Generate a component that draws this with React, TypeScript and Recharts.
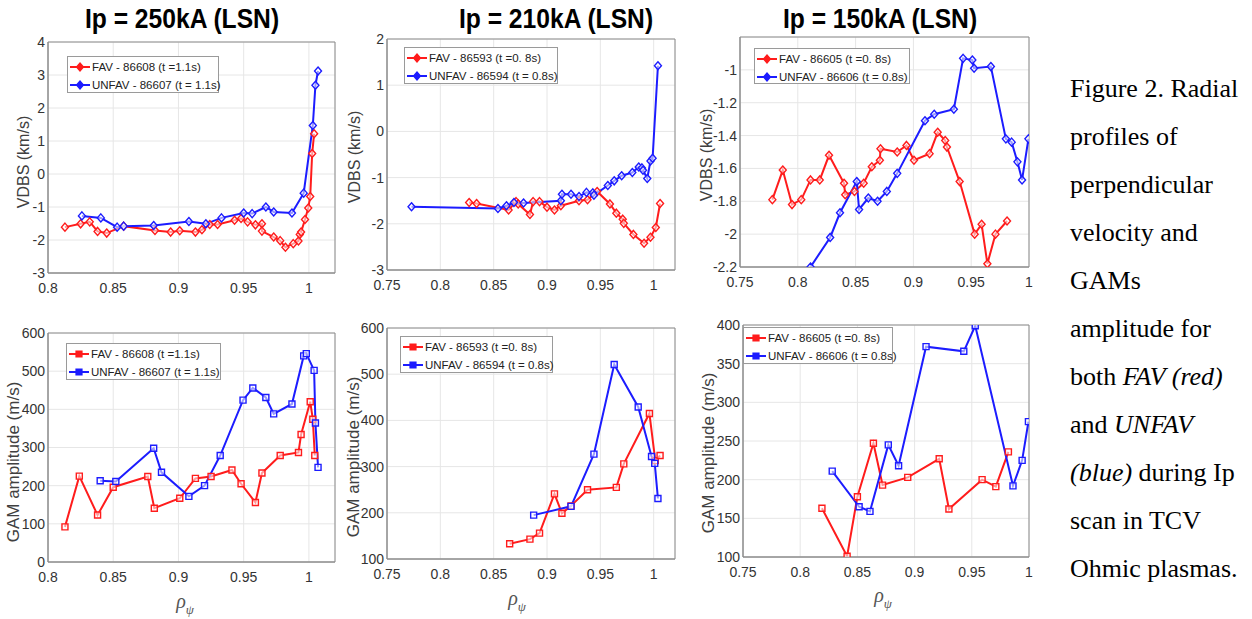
import React from "react";
import { LineChart, Line, XAxis, YAxis, CartesianGrid, ReferenceArea } from "recharts";

type Pt = [number, number];

const red = "#ff1c1c";
const blue = "#1c1cff";
const axisGray = "#8c8c8c";
const gridGray = "#e6e6e6";

// rho_psi vs value
const fav250Vdbs: Pt[] = [[0.813,-1.61],[0.825,-1.51],[0.832,-1.45],[0.838,-1.74],[0.845,-1.79],[0.858,-1.58],[0.882,-1.71],[0.894,-1.76],[0.901,-1.72],[0.913,-1.76],[0.918,-1.69],[0.924,-1.53],[0.93,-1.53],[0.943,-1.4],[0.948,-1.35],[0.953,-1.45],[0.959,-1.54],[0.964,-1.51],[0.964,-1.73],[0.973,-1.91],[0.978,-2.02],[0.982,-2.22],[0.988,-2.11],[0.992,-2.03],[0.993,-1.83],[0.994,-1.76],[0.997,-1.38],[0.9995,-1.03],[1.001,-0.68],[1.0025,0.62],[1.004,1.22]];
const unfav250Vdbs: Pt[] = [[0.826,-1.27],[0.8405,-1.33],[0.853,-1.61],[0.858,-1.58],[0.881,-1.56],[0.908,-1.44],[0.921,-1.51],[0.933,-1.33],[0.95,-1.18],[0.9565,-1.2],[0.967,-1.0],[0.973,-1.15],[0.987,-1.18],[0.996,-0.58],[1.003,1.47],[1.005,2.69],[1.007,3.12]];
const fav210Vdbs: Pt[] = [[0.827,-1.54],[0.834,-1.56],[0.864,-1.7],[0.871,-1.52],[0.873,-1.57],[0.884,-1.8],[0.887,-1.52],[0.893,-1.52],[0.9,-1.64],[0.907,-1.7],[0.913,-1.61],[0.93,-1.5],[0.938,-1.48],[0.947,-1.3],[0.959,-1.57],[0.965,-1.77],[0.971,-1.9],[0.972,-1.99],[0.981,-2.23],[0.991,-2.42],[0.997,-2.29],[1.002,-2.08],[1.006,-1.56]];
const unfav210Vdbs: Pt[] = [[0.773,-1.63],[0.854,-1.67],[0.862,-1.61],[0.869,-1.54],[0.878,-1.55],[0.913,-1.5],[0.914,-1.36],[0.9225,-1.36],[0.93,-1.41],[0.937,-1.32],[0.943,-1.33],[0.944,-1.38],[0.957,-1.17],[0.963,-1.07],[0.97,-0.96],[0.98,-0.89],[0.986,-0.77],[0.989,-0.79],[0.99,-0.84],[0.994,-1.02],[0.997,-0.64],[0.999,-0.58],[1.004,1.42]];
const fav150Vdbs: Pt[] = [[0.778,-1.79],[0.787,-1.61],[0.795,-1.82],[0.803,-1.79],[0.811,-1.67],[0.819,-1.67],[0.827,-1.52],[0.84,-1.69],[0.841,-1.76],[0.849,-1.74],[0.857,-1.69],[0.864,-1.59],[0.871,-1.55],[0.8715,-1.48],[0.886,-1.5],[0.894,-1.46],[0.9005,-1.55],[0.914,-1.51],[0.921,-1.38],[0.9275,-1.43],[0.929,-1.47],[0.94,-1.68],[0.953,-2.0],[0.959,-1.94],[0.964,-2.18],[0.971,-2.0],[0.981,-1.92]];
const unfav150Vdbs: Pt[] = [[0.811,-2.2],[0.828,-2.02],[0.8365,-1.87],[0.851,-1.68],[0.853,-1.85],[0.861,-1.78],[0.869,-1.8],[0.877,-1.74],[0.886,-1.63],[0.91,-1.31],[0.918,-1.27],[0.935,-1.24],[0.943,-0.93],[0.951,-0.94],[0.9525,-0.99],[0.967,-0.98],[0.98,-1.42],[0.985,-1.44],[0.99,-1.56],[0.994,-1.67],[0.9995,-1.42]];

const fav250Gam: Pt[] = [[0.813,92],[0.824,225],[0.838,123],[0.85,196],[0.8765,224],[0.8815,141],[0.901,167],[0.913,219],[0.925,224],[0.941,241],[0.948,205],[0.959,156],[0.964,233],[0.978,279],[0.992,287],[0.994,334],[1.001,420],[1.003,374],[1.0045,279]];
const unfav250Gam: Pt[] = [[0.84,213],[0.852,211],[0.881,298],[0.887,235],[0.908,172],[0.92,200],[0.932,279],[0.9495,424],[0.957,456],[0.967,431],[0.973,388],[0.987,414],[0.996,540],[0.998,546],[1.004,502],[1.005,364],[1.007,248]];
const fav210Gam: Pt[] = [[0.865,133],[0.884,143],[0.893,156],[0.907,241],[0.914,199],[0.9225,215],[0.938,250],[0.965,255],[0.972,306],[0.996,415],[1.0015,313],[1.006,324]];
const unfav210Gam: Pt[] = [[0.8875,195],[0.9225,214],[0.944,327],[0.963,521],[0.9855,429],[0.998,322],[1.001,307],[1.004,231]];
const fav150Gam: Pt[] = [[0.819,163],[0.841,101],[0.85,178],[0.864,247],[0.872,193],[0.894,203],[0.9215,227],[0.93,162],[0.959,200],[0.971,191],[0.982,236]];
const unfav150Gam: Pt[] = [[0.828,211],[0.8515,165],[0.861,159],[0.877,245],[0.886,218],[0.91,372],[0.943,366],[0.953,399],[0.986,192],[0.994,225],[0.9995,275]];

const rhoTicksA = [0.8, 0.85, 0.9, 0.95, 1];
const rhoTicksB = [0.75, 0.8, 0.85, 0.9, 0.95, 1];
const vTicks250 = [-3, -2, -1, 0, 1, 2, 3, 4];
const vTicks210 = [-3, -2, -1, 0, 1, 2];
const vTicks150 = [-2.2, -2, -1.8, -1.6, -1.4, -1.2, -1];
const gTicks250 = [0, 100, 200, 300, 400, 500, 600];
const gTicks210 = [100, 200, 300, 400, 500, 600];
const gTicks150 = [100, 150, 200, 250, 300, 350, 400];

const toRows = (pts: Pt[]) => pts.map(([x, y]) => ({ x, y }));

const markerPath = (shape: string, cx: number, cy: number) =>
  shape === "d"
    ? `M${cx},${cy - 4}L${cx + 3.5},${cy}L${cx},${cy + 4}L${cx - 3.5},${cy}Z`
    : `M${cx - 3},${cy - 3}h6v6h-6Z`;

const marker = (shape: string, color: string) => (p: any) => {
  const { cx, cy, index } = p;
  if (cx == null || cy == null) return <g key={index} />;
  return <path key={index} d={markerPath(shape, cx, cy)} fill="#fff" fillOpacity={0.55} stroke={color} strokeWidth={1.4} />;
};

const sans = "'Liberation Sans', Arial, sans-serif";

function Panel({ box, xDomain, xTicks, yDomain, yTicks, fav, unfav, shape }: any) {
  const [L, T, W, H] = box;
  const ML = 50, MT = 10, MR = 10, MB = 30;
  const tick = { fill: "#333", fontSize: 14, fontFamily: sans };
  return (
    <div style={{ position: "absolute", left: L - ML, top: T - MT }}>
      <LineChart width={W + ML + MR} height={H + MT + MB} margin={{ top: MT, right: MR, bottom: 0, left: 0 }}>
        <CartesianGrid stroke={gridGray} />
        <XAxis dataKey="x" type="number" domain={xDomain} ticks={xTicks} allowDataOverflow interval={0}
          height={MB} tickLine={false} stroke={axisGray} tick={tick} tickMargin={4} tickFormatter={(v: number) => String(v)} />
        <YAxis type="number" domain={yDomain} ticks={yTicks} allowDataOverflow interval={0}
          width={ML} tickLine={false} tickSize={1} stroke={axisGray} tick={tick} tickMargin={2} tickFormatter={(v: number) => String(v)} />
        <ReferenceArea x1={xDomain[0]} x2={xDomain[1]} y1={yDomain[0]} y2={yDomain[1]} fill="none" fillOpacity={0} stroke={axisGray} strokeOpacity={1} />
        <Line data={toRows(fav)} dataKey="y" type="linear" stroke={red} strokeWidth={2} dot={marker(shape, red)} activeDot={false} isAnimationActive={false} />
        <Line data={toRows(unfav)} dataKey="y" type="linear" stroke={blue} strokeWidth={2} dot={marker(shape, blue)} activeDot={false} isAnimationActive={false} />
      </LineChart>
    </div>
  );
}

function LegendBox({ x, y, w, h, labels, shape }: any) {
  const rows = [{ c: red, t: labels[0], cy: 10 }, { c: blue, t: labels[1], cy: 28 }];
  return (
    <div style={{ position: "absolute", left: x, top: y, width: w, height: h, border: "1px solid #9a9a9a", background: "#fff", boxSizing: "border-box" }}>
      {rows.map((r) => (
        <div key={r.t} style={{ position: "absolute", left: 1, top: r.cy - 8, height: 16, display: "flex", alignItems: "center", whiteSpace: "nowrap" }}>
          <svg width={22} height={16}>
            <line x1={1} y1={8} x2={21} y2={8} stroke={r.c} strokeWidth={2} />
            <path d={markerPath(shape, 11, 8)} fill={r.c} stroke={r.c} strokeWidth={1.2} />
          </svg>
          <span style={{ fontFamily: sans, fontSize: 11.5, color: "#222", marginLeft: 1 }}>{r.t}</span>
        </div>
      ))}
    </div>
  );
}

function Title({ cx, text }: any) {
  return (
    <div style={{ position: "absolute", left: cx - 150, top: 4, width: 300, textAlign: "center", fontFamily: sans, fontWeight: "bold", fontSize: 28, lineHeight: "30px", color: "#000", transform: "scaleX(0.88)" }}>{text}</div>
  );
}

function YLabel({ cx, cy, text, size }: any) {
  return (
    <div style={{ position: "absolute", left: cx - 120, top: cy - 11, width: 240, height: 22, lineHeight: "22px", textAlign: "center", fontFamily: sans, fontSize: size, color: "#404040", transform: "rotate(-90deg)", whiteSpace: "nowrap" }}>{text}</div>
  );
}

function RhoLabel({ cx, cy }: any) {
  return (
    <div style={{ position: "absolute", left: cx - 20, top: cy - 13, width: 40, textAlign: "center", fontFamily: "'Liberation Serif', serif", fontStyle: "italic", fontSize: 20, color: "#555", lineHeight: "24px" }}>
      ρ<span style={{ fontSize: 13, position: "relative", top: 6 }}>ψ</span>
    </div>
  );
}

const captionLines = [
  <>Figure 2. Radial</>,
  <>profiles of</>,
  <>perpendicular</>,
  <>velocity and</>,
  <>GAMs</>,
  <>amplitude for</>,
  <>both <i>FAV (red)</i></>,
  <>and <i>UNFAV</i></>,
  <><i>(blue)</i> during Ip</>,
  <>scan in TCV</>,
  <>Ohmic plasmas.</>,
];

export default function App() {
  const leg250 = ["FAV - 86608 (t =1.1s)", "UNFAV - 86607 (t = 1.1s)"];
  const leg210 = ["FAV - 86593 (t =0. 8s)", "UNFAV - 86594 (t = 0.8s)"];
  const leg150 = ["FAV - 86605 (t =0. 8s)", "UNFAV - 86606 (t = 0.8s)"];
  return (
    <div style={{ position: "absolute", left: 0, top: 0, width: 1252, height: 619, background: "#fff", overflow: "hidden" }}>
      <Title cx={182} text="Ip = 250kA (LSN)" />
      <Title cx={556} text="Ip = 210kA (LSN)" />
      <Title cx={880} text="Ip = 150kA (LSN)" />

      <Panel box={[48, 42, 287, 231]} xDomain={[0.8, 1.02]} xTicks={rhoTicksA} yDomain={[-3, 4]} yTicks={vTicks250} fav={fav250Vdbs} unfav={unfav250Vdbs} shape="d" />
      <Panel box={[387, 39, 288, 231]} xDomain={[0.75, 1.02]} xTicks={rhoTicksB} yDomain={[-3, 2]} yTicks={vTicks210} fav={fav210Vdbs} unfav={unfav210Vdbs} shape="d" />
      <Panel box={[740, 37, 289, 230]} xDomain={[0.75, 1]} xTicks={rhoTicksB} yDomain={[-2.2, -0.8]} yTicks={vTicks150} fav={fav150Vdbs} unfav={unfav150Vdbs} shape="d" />
      <Panel box={[48, 333, 287, 229]} xDomain={[0.8, 1.02]} xTicks={rhoTicksA} yDomain={[0, 600]} yTicks={gTicks250} fav={fav250Gam} unfav={unfav250Gam} shape="s" />
      <Panel box={[387, 328, 288, 231]} xDomain={[0.75, 1.02]} xTicks={rhoTicksB} yDomain={[100, 600]} yTicks={gTicks210} fav={fav210Gam} unfav={unfav210Gam} shape="s" />
      <Panel box={[743, 325, 286, 232]} xDomain={[0.75, 1]} xTicks={rhoTicksB} yDomain={[100, 400]} yTicks={gTicks150} fav={fav150Gam} unfav={unfav150Gam} shape="s" />

      <LegendBox x={67} y={56} w={152} h={37} labels={leg250} shape="d" />
      <LegendBox x={404} y={47} w={154} h={37} labels={leg210} shape="d" />
      <LegendBox x={754} y={48} w={156} h={36} labels={leg150} shape="d" />
      <LegendBox x={66} y={343} w={155} h={37} labels={leg250} shape="s" />
      <LegendBox x={400} y={336} w={153} h={37} labels={leg210} shape="s" />
      <LegendBox x={743} y={327} w={150} h={37} labels={leg150} shape="s" />

      <YLabel cx={24} cy={162} text="VDBS (km/s)" size={16} />
      <YLabel cx={355} cy={157} text="VDBS (km/s)" size={16} />
      <YLabel cx={707} cy={155} text="VDBS (km/s)" size={16} />
      <YLabel cx={14} cy={462} text="GAM amplitude (m/s)" size={17} />
      <YLabel cx={354} cy={457} text="GAM amplitude (m/s)" size={17} />
      <YLabel cx={709} cy={453} text="GAM amplitude (m/s)" size={17} />

      <RhoLabel cx={185} cy={602} />
      <RhoLabel cx={517} cy={599} />
      <RhoLabel cx={883} cy={596} />

      <div style={{ position: "absolute", left: 1070, top: 65, fontFamily: "'Liberation Serif', 'Times New Roman', serif", fontSize: 26, lineHeight: "48px", color: "#000", whiteSpace: "nowrap" }}>
        {captionLines.map((l, i) => <div key={i}>{l}</div>)}
      </div>
    </div>
  );
}
